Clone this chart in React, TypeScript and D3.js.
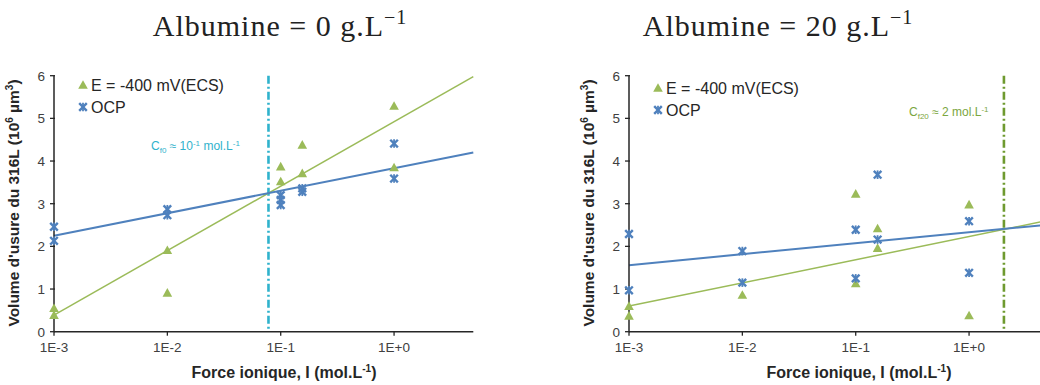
import React from "react";
import * as d3 from "d3";

// ---------- DATA ----------
const xTicks = [0.001, 0.01, 0.1, 1];
const xTickLabels = ["1E-3", "1E-2", "1E-1", "1E+0"];
const yTicks = [0, 1, 2, 3, 4, 5, 6];

// Albumine = 0 g/L
const leftE: [number, number][] = [
  [0.001, 0.55], [0.001, 0.39],
  [0.01, 1.91], [0.01, 0.91],
  [0.1, 3.87], [0.1, 3.52],
  [0.155, 4.38], [0.155, 3.71],
  [1, 5.29], [1, 3.85],
];
const leftOCP: [number, number][] = [
  [0.001, 2.46], [0.001, 2.13],
  [0.01, 2.87], [0.01, 2.73],
  [0.1, 3.2], [0.1, 3.09], [0.1, 2.97],
  [0.155, 3.36], [0.155, 3.28],
  [1, 4.41], [1, 3.59],
];
const leftTrendE: [number, number][] = [[0.001, 0.39], [5, 5.98]];
const leftTrendOCP: [number, number][] = [[0.001, 2.25], [5, 4.2]];
const leftCrit = 0.078;

// Albumine = 20 g/L
const rightE: [number, number][] = [
  [0.001, 0.6], [0.001, 0.37],
  [0.01, 0.86],
  [0.1, 3.23], [0.1, 1.13],
  [0.156, 2.42], [0.156, 1.96],
  [1, 2.98], [1, 0.38],
];
const rightOCP: [number, number][] = [
  [0.001, 2.29], [0.001, 0.97],
  [0.01, 1.89], [0.01, 1.15],
  [0.1, 2.39], [0.1, 1.25],
  [0.156, 3.68], [0.156, 2.16],
  [1, 2.59], [1, 1.38],
];
const rightTrendE: [number, number][] = [[0.001, 0.6], [5, 2.61]];
const rightTrendOCP: [number, number][] = [[0.001, 1.56], [5, 2.51]];
const rightCrit = 2.03;

const GREEN = "#9bbb59";
const BLUE = "#4f81bd";
const AXIS = "#262626";
const SANS = "'Liberation Sans', Arial, sans-serif";
const SERIF = "'Liberation Serif', 'DejaVu Serif', serif";

function Triangle({ x, y }: { x: number; y: number }) {
  const s = 4.8;
  return (
    <path
      d={`M${x},${y - s}L${x + s},${y + s * 0.8}L${x - s},${y + s * 0.8}Z`}
      fill={GREEN}
    />
  );
}

function Star({ x, y }: { x: number; y: number }) {
  const s = 3.8;
  return (
    <g stroke={BLUE} strokeWidth={2.4} strokeLinecap="butt">
      <line x1={x - s} y1={y - s} x2={x + s} y2={y + s} />
      <line x1={x - s} y1={y + s} x2={x + s} y2={y - s} />
      <line x1={x} y1={y - s - 0.5} x2={x} y2={y + s + 0.5} strokeWidth={1.8} />
    </g>
  );
}

type PanelProps = {
  ox: number;
  titleX: number;
  title: string;
  E: [number, number][];
  OCP: [number, number][];
  trendE: [number, number][];
  trendOCP: [number, number][];
  crit: number;
  critColor: string;
  legendDy: number;
  annot: React.ReactNode;
};

function Panel(p: PanelProps) {
  const x = d3.scaleLog().domain([0.001, 5]).range([p.ox, p.ox + 419.3]);
  const y = d3.scaleLinear().domain([0, 6]).range([331.7, 75.7]);
  const line = d3
    .line<[number, number]>()
    .x((d) => x(d[0]))
    .y((d) => y(d[1]));
  const x0 = x.range()[0];
  const x1 = x.range()[1];
  const cx = p.ox + 230;
  return (
    <g>
      <text
        x={p.titleX}
        y={36}
        textAnchor="middle"
        fontFamily={SERIF}
        fontSize={30}
        letterSpacing={1}
        fill="#222"
      >
        {p.title}
        <tspan dy={-12} fontSize={20}>−1</tspan>
      </text>

      {/* critical line */}
      <line
        x1={x(p.crit)}
        x2={x(p.crit)}
        y1={y(6)}
        y2={y(0)}
        stroke={p.critColor}
        strokeWidth={2.6}
        strokeDasharray="8,3,2,3"
      />
      {p.annot}

      {/* trend lines */}
      <path d={line(p.trendE) || ""} fill="none" stroke={GREEN} strokeWidth={1.5} />
      <path d={line(p.trendOCP) || ""} fill="none" stroke={BLUE} strokeWidth={2} />

      {/* axes */}
      <line x1={x0} x2={x0} y1={y(6)} y2={y(0)} stroke={AXIS} strokeWidth={1.5} />
      <line x1={x0} x2={x1} y1={y(0)} y2={y(0)} stroke={AXIS} strokeWidth={1.5} />
      {yTicks.map((t) => (
        <g key={"y" + t}>
          <line x1={x0 - 4} x2={x0 + 1} y1={y(t)} y2={y(t)} stroke={AXIS} strokeWidth={1.3} />
          <text
            x={x0 - 9}
            y={y(t) + 5}
            textAnchor="end"
            fontFamily={SANS}
            fontSize={13.5}
            fill="#404040"
          >
            {t}
          </text>
        </g>
      ))}
      {xTicks.map((t, i) => (
        <g key={"x" + t}>
          <line x1={x(t)} x2={x(t)} y1={y(0)} y2={y(0) + 4} stroke={AXIS} strokeWidth={1.3} />
          <text
            x={x(t)}
            y={352}
            textAnchor="middle"
            fontFamily={SANS}
            fontSize={13.5}
            fill="#404040"
          >
            {xTickLabels[i]}
          </text>
        </g>
      ))}

      {/* points */}
      {p.E.map((d, i) => (
        <Triangle key={"e" + i} x={x(d[0])} y={y(d[1])} />
      ))}
      {p.OCP.map((d, i) => (
        <Star key={"o" + i} x={x(d[0])} y={y(d[1])} />
      ))}

      {/* axis titles */}
      <text
        transform={`translate(${p.ox - 35},${203}) rotate(-90)`}
        textAnchor="middle"
        fontFamily={SANS}
        fontWeight="bold"
        fontSize={15.5}
        fill="#262626"
      >
        Volume d'usure du 316L (10
        <tspan dy={-6} fontSize={10}>6</tspan>
        <tspan dy={6}> µm</tspan>
        <tspan dy={-6} fontSize={10}>3</tspan>
        <tspan dy={6}>)</tspan>
      </text>
      <text
        x={cx}
        y={378}
        textAnchor="middle"
        fontFamily={SANS}
        fontWeight="bold"
        fontSize={16}
        fill="#262626"
      >
        Force ionique, I (mol.L
        <tspan dy={-6} fontSize={10}>-1</tspan>
        <tspan dy={6}>)</tspan>
      </text>

      {/* legend */}
      <g transform={`translate(${p.ox + 29},${85 + p.legendDy})`}>
        <Triangle x={0} y={0} />
        <text x={8} y={5.5} fontFamily={SANS} fontSize={16} fill="#262626">
          E = -400 mV(ECS)
        </text>
        <Star x={0} y={22} />
        <text x={8} y={27.5} fontFamily={SANS} fontSize={16} fill="#262626">
          OCP
        </text>
      </g>
    </g>
  );
}

export default function App() {
  const cyan = "#2fb2cc";
  const olive = "#6e9a2f";
  return (
    <svg
      width={1040}
      height={385}
      style={{ position: "absolute", left: 0, top: 0, background: "#fff" }}
    >
      <rect width={1040} height={385} fill="#fff" />
      <Panel
        ox={54}
        titleX={280}
        title="Albumine = 0 g.L"
        E={leftE}
        OCP={leftOCP}
        trendE={leftTrendE}
        trendOCP={leftTrendOCP}
        crit={leftCrit}
        critColor={cyan}
        legendDy={0}
        annot={
          <text x={151} y={150} fontFamily={SANS} fontSize={12} fill={cyan}>
            C<tspan dy={3} fontSize={8}>f0</tspan>
            <tspan dy={-3}> ≈ 10</tspan>
            <tspan dy={-4} fontSize={8}>-1</tspan>
            <tspan dy={4}> mol.L</tspan>
            <tspan dy={-4} fontSize={8}>-1</tspan>
          </text>
        }
      />
      <Panel
        ox={629}
        titleX={778}
        title="Albumine = 20 g.L"
        E={rightE}
        OCP={rightOCP}
        trendE={rightTrendE}
        trendOCP={rightTrendOCP}
        crit={rightCrit}
        critColor={olive}
        legendDy={3}
        annot={
          <text x={909} y={116} fontFamily={SANS} fontSize={12} fill="#7ba63e">
            C<tspan dy={3} fontSize={8}>f20</tspan>
            <tspan dy={-3}> ≈ 2 mol.L</tspan>
            <tspan dy={-4} fontSize={8}>-1</tspan>
          </text>
        }
      />
    </svg>
  );
}
